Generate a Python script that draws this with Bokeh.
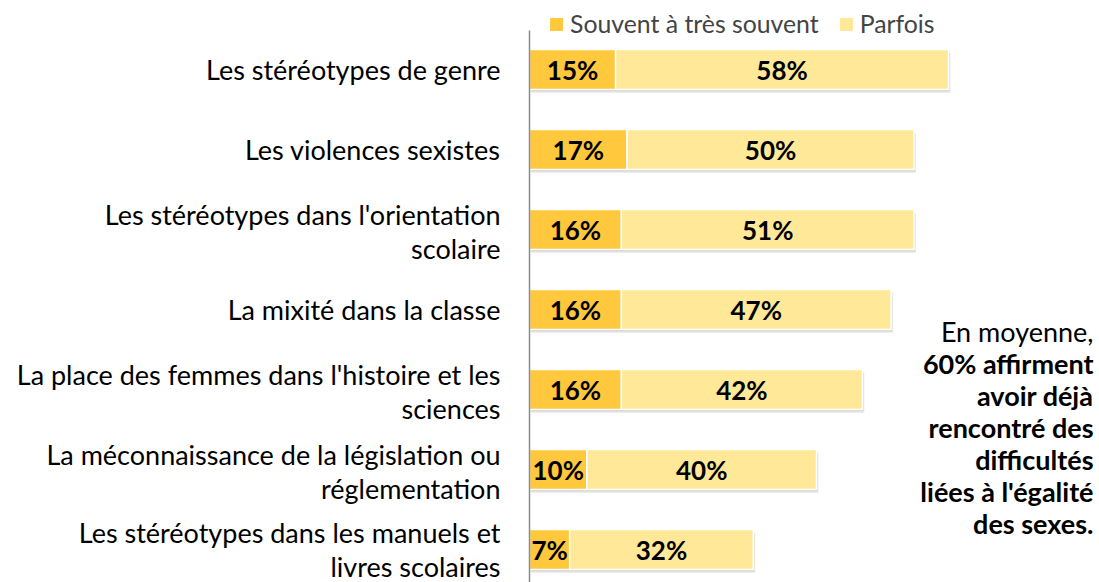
from bokeh.plotting import figure
from bokeh.models import Range1d, ColumnDataSource, Legend, LegendItem
from bokeh.core.properties import value
from bokeh.embed import file_html
from bokeh.resources import INLINE

# ---- data ----
categories = [
    "Les stéréotypes de genre",
    "Les violences sexistes",
    "Les stéréotypes dans l'orientation\nscolaire",
    "La mixité dans la classe",
    "La place des femmes dans l'histoire et les\nsciences",
    "La méconnaissance de la législation ou\nréglementation",
    "Les stéréotypes dans les manuels et\nlivres scolaires",
]
souvent = [15, 17, 16, 16, 16, 10, 7]
parfois = [58, 50, 51, 47, 42, 40, 32]
series_names = ["Souvent à très souvent", "Parfois"]
note_first = "En moyenne,"
note_bold = ["60% affirment", "avoir déjà", "rencontré des", "difficultés",
             "liées à l'égalité", "des sexes."]

# ---- layout constants ----
W, H = 1099, 582
PX = 5.74      # pixels per percent
X0 = 529       # canvas x of 0 %
ROW = 80       # pixels per category row
Y0 = 69        # canvas y of first row centre
FONT = "Lato"
DARK = "#FFC83D"
LIGHT = "#FFE999"

ys = list(range(len(categories)))
totals = [a + b for a, b in zip(souvent, parfois)]

src = ColumnDataSource(dict(
    y=ys, cat=categories, s=souvent, p=parfois, tot=totals,
    s_mid=[v / 2 for v in souvent],
    p_mid=[a + b / 2 for a, b in zip(souvent, parfois)],
    s_lab=[f"{v}%" for v in souvent],
    p_lab=[f"{v}%" for v in parfois],
    lab_y=[y + (2 / ROW if ("\n" in c and y < len(ys) - 1) else 0)
           for y, c in zip(ys, categories)],
))

p = figure(width=W, height=H,
           x_range=Range1d(-X0 / PX, (W - X0) / PX),
           y_range=Range1d((H - Y0) / ROW, -Y0 / ROW),
           output_backend="svg", toolbar_location=None,
           x_axis_location=None, y_axis_location=None,
           min_border=0, outline_line_color=None)
p.grid.visible = False
p.background_fill_color = "white"
p.border_fill_color = "white"

BH = 0.5
# soft shadow
for dx, dy, a in [(1.0, 2.0, 0.18), (2.0, 3.5, 0.10)]:
    p.hbar(y=[y + dy / ROW for y in ys], left=[dx / PX] * len(ys),
           right=[t + dx / PX for t in totals], height=BH,
           fill_color="#555555", fill_alpha=a, line_color=None)

r1 = p.hbar(y="y", left=0, right="s", height=BH, source=src,
            fill_color=DARK, line_color="white", line_width=1.5)
r2 = p.hbar(y="y", left="s", right="tot", height=BH, source=src,
            fill_color=LIGHT, line_color="white", line_width=1.5)

# axis line
p.segment(x0=[0], y0=[(30 - Y0) / ROW], x1=[0], y1=[(H - Y0) / ROW],
          line_color="#8C8C8C", line_width=1.5)

# value labels
p.text(x="s_mid", y="y", text="s_lab", source=src, text_align="center",
       text_baseline="middle", text_font=value(FONT), text_font_style="bold",
       text_font_size="26px", text_color="black")
p.text(x="p_mid", y="y", text="p_lab", source=src, text_align="center",
       text_baseline="middle", text_font=value(FONT), text_font_style="bold",
       text_font_size="26px", text_color="black")

# category labels
p.text(x=-29 / PX, y="lab_y", text="cat", source=src, text_align="right",
       text_baseline="middle", text_font=value(FONT), text_font_size="27px",
       text_line_height=1.05, text_color="black")

# annotation
RX = (1093 - X0) / PX
LINE = 32 / ROW
ny = (331 - Y0) / ROW
p.text(x=[RX], y=[ny], text=[note_first], text_align="right",
       text_baseline="middle", text_font=value(FONT), text_font_size="27px",
       text_color="black")
p.text(x=[RX] * len(note_bold), y=[ny + LINE * (k + 1) for k in range(len(note_bold))],
       text=note_bold, text_align="right", text_baseline="middle",
       text_font=value(FONT), text_font_style="bold", text_font_size="27px",
       text_color="black")

legend = Legend(items=[LegendItem(label=series_names[0], renderers=[r1]),
                       LegendItem(label=series_names[1], renderers=[r2])],
                orientation="horizontal", location=(547, 544),
                label_text_font=FONT, label_text_font_size="24.8px",
                glyph_width=18, glyph_height=18, label_standoff=5,
                spacing=18, padding=0, margin=0,
                border_line_color=None, background_fill_alpha=0)
p.add_layout(legend)

open("out.html", "w").write(file_html(p, INLINE))
